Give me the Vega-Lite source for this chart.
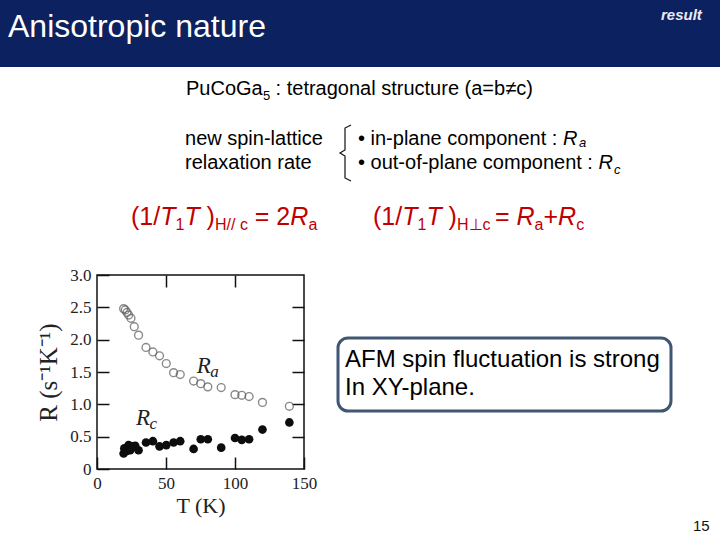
{
  "$schema": "https://vega.github.io/schema/vega-lite/v6.json",
  "width": 207,
  "height": 194,
  "autosize": {"type": "none"},
  "padding": {"left": 97, "top": 275, "right": 416, "bottom": 71},
  "background": "white",
  "config": {
    "view": {"stroke": "#111", "strokeWidth": 1.5},
    "axis": {
      "domain": false,
      "grid": false,
      "tickSize": -12,
      "tickColor": "#111",
      "tickWidth": 1.5,
      "labelFont": "Liberation Serif",
      "labelFontSize": 17,
      "labelColor": "#222",
      "labelPadding": 18,
      "labelFlush": false,
      "labelOverlap": false,
      "titleFont": "Liberation Serif",
      "titleFontSize": 22,
      "titleFontWeight": "normal",
      "titleColor": "#222"
    }
  },
  "datasets": {
    "relaxation": [
      {"T": 19.3, "R": 2.48, "component": "Ra"},
      {"T": 20.5, "R": 2.46, "component": "Ra"},
      {"T": 21.7, "R": 2.42, "component": "Ra"},
      {"T": 22.9, "R": 2.38, "component": "Ra"},
      {"T": 24.6, "R": 2.33, "component": "Ra"},
      {"T": 27.0, "R": 2.20, "component": "Ra"},
      {"T": 30.1, "R": 2.07, "component": "Ra"},
      {"T": 35.5, "R": 1.88, "component": "Ra"},
      {"T": 40.5, "R": 1.81, "component": "Ra"},
      {"T": 45.3, "R": 1.75, "component": "Ra"},
      {"T": 50.2, "R": 1.63, "component": "Ra"},
      {"T": 55.5, "R": 1.49, "component": "Ra"},
      {"T": 60.3, "R": 1.46, "component": "Ra"},
      {"T": 70.0, "R": 1.36, "component": "Ra"},
      {"T": 75.2, "R": 1.32, "component": "Ra"},
      {"T": 80.3, "R": 1.27, "component": "Ra"},
      {"T": 90.0, "R": 1.26, "component": "Ra"},
      {"T": 100.0, "R": 1.15, "component": "Ra"},
      {"T": 104.9, "R": 1.14, "component": "Ra"},
      {"T": 110.2, "R": 1.12, "component": "Ra"},
      {"T": 119.9, "R": 1.03, "component": "Ra"},
      {"T": 139.4, "R": 0.97, "component": "Ra"},
      {"T": 19.3, "R": 0.24, "component": "Rc"},
      {"T": 19.8, "R": 0.32, "component": "Rc"},
      {"T": 21.7, "R": 0.28, "component": "Rc"},
      {"T": 22.9, "R": 0.37, "component": "Rc"},
      {"T": 24.1, "R": 0.29, "component": "Rc"},
      {"T": 25.8, "R": 0.35, "component": "Rc"},
      {"T": 27.7, "R": 0.36, "component": "Rc"},
      {"T": 30.1, "R": 0.29, "component": "Rc"},
      {"T": 35.5, "R": 0.41, "component": "Rc"},
      {"T": 40.5, "R": 0.43, "component": "Rc"},
      {"T": 45.3, "R": 0.35, "component": "Rc"},
      {"T": 50.2, "R": 0.37, "component": "Rc"},
      {"T": 55.5, "R": 0.41, "component": "Rc"},
      {"T": 60.3, "R": 0.43, "component": "Rc"},
      {"T": 70.0, "R": 0.31, "component": "Rc"},
      {"T": 75.2, "R": 0.46, "component": "Rc"},
      {"T": 80.3, "R": 0.46, "component": "Rc"},
      {"T": 90.0, "R": 0.33, "component": "Rc"},
      {"T": 100.0, "R": 0.48, "component": "Rc"},
      {"T": 104.9, "R": 0.45, "component": "Rc"},
      {"T": 110.2, "R": 0.46, "component": "Rc"},
      {"T": 119.9, "R": 0.61, "component": "Rc"},
      {"T": 139.4, "R": 0.72, "component": "Rc"}
    ],
    "panels": [
      {"panel": "header", "T": -70.29, "T2": 451.45, "R": 7.2526, "R2": 6.2165},
      {"panel": "box", "T": 174.64, "T2": 415.94, "R": 2.0258, "R2": 0.8969}
    ],
    "bracket": [
      {"i": 1, "T": 184.06, "R": 5.3196},
      {"i": 2, "T": 179.71, "R": 5.2732},
      {"i": 3, "T": 179.71, "R": 4.9330},
      {"i": 4, "T": 176.09, "R": 4.8866},
      {"i": 5, "T": 179.71, "R": 4.8402},
      {"i": 6, "T": 179.71, "R": 4.5000},
      {"i": 7, "T": 184.06, "R": 4.4536}
    ],
    "notes": [
      {"text": "Anisotropic nature", "T": -64.49, "R": 6.6804, "role": "title"},
      {"text": "result", "T": 408.70, "R": 6.9433, "role": "tag"},
      {"text": "PuCoGa", "T": 64.49, "R": 5.7835, "role": "body"},
      {"text": "5", "T": 120.29, "R": 5.7062, "role": "sub"},
      {"text": ": tetragonal structure (a=b≠c)", "T": 129.42, "R": 5.7835, "role": "body"},
      {"text": "new spin-lattice", "T": 63.77, "R": 5.0103, "role": "body"},
      {"text": "relaxation rate", "T": 63.77, "R": 4.6392, "role": "body"},
      {"text": "• in-plane component :", "T": 189.13, "R": 5.0103, "role": "body"},
      {"text": "R", "T": 337.68, "R": 5.0103, "role": "body_italic"},
      {"text": "a", "T": 349.28, "R": 4.9717, "role": "sub_italic"},
      {"text": "• out-of-plane component :", "T": 189.13, "R": 4.6392, "role": "body"},
      {"text": "R", "T": 363.41, "R": 4.6392, "role": "body_italic"},
      {"text": "c", "T": 374.64, "R": 4.5619, "role": "sub_italic"},
      {"text": "(1/", "T": 24.64, "R": 3.7732, "role": "formula"},
      {"text": "T", "T": 45.80, "R": 3.7732, "role": "formula_italic"},
      {"text": "1", "T": 56.88, "R": 3.6959, "role": "formula_sub"},
      {"text": "T", "T": 63.33, "R": 3.7732, "role": "formula_italic"},
      {"text": ")", "T": 79.42, "R": 3.7732, "role": "formula"},
      {"text": "H// c", "T": 85.51, "R": 3.6959, "role": "formula_sub"},
      {"text": "= 2", "T": 114.35, "R": 3.7732, "role": "formula"},
      {"text": "R", "T": 140.07, "R": 3.7732, "role": "formula_italic"},
      {"text": "a", "T": 153.19, "R": 3.6959, "role": "formula_sub"},
      {"text": "(1/", "T": 200.00, "R": 3.7732, "role": "formula"},
      {"text": "T", "T": 221.16, "R": 3.7732, "role": "formula_italic"},
      {"text": "1", "T": 232.25, "R": 3.6959, "role": "formula_sub"},
      {"text": "T", "T": 238.70, "R": 3.7732, "role": "formula_italic"},
      {"text": ")", "T": 254.78, "R": 3.7732, "role": "formula"},
      {"text": "H⊥c", "T": 260.87, "R": 3.6959, "role": "formula_sub"},
      {"text": "=", "T": 288.33, "R": 3.7732, "role": "formula"},
      {"text": "R", "T": 303.99, "R": 3.7732, "role": "formula_italic"},
      {"text": "a", "T": 317.10, "R": 3.6959, "role": "formula_sub"},
      {"text": "+", "T": 323.55, "R": 3.7732, "role": "formula"},
      {"text": "R", "T": 334.13, "R": 3.7732, "role": "formula_italic"},
      {"text": "c", "T": 347.25, "R": 3.6959, "role": "formula_sub"},
      {"text": "AFM spin fluctuation is strong", "T": 179.71, "R": 1.5773, "role": "box"},
      {"text": "In XY-plane.", "T": 179.71, "R": 1.1443, "role": "box"},
      {"text": "15", "T": 431.88, "R": -0.9588, "role": "page"},
      {"text": "R", "T": 72.2, "R": 1.48, "role": "plot"},
      {"text": "a", "T": 82.0, "R": 1.42, "role": "plot_sub"},
      {"text": "R", "T": 28.3, "R": 0.68, "role": "plot"},
      {"text": "c", "T": 38.0, "R": 0.62, "role": "plot_sub"}
    ]
  },
  "layer": [
    {
      "data": {"name": "panels"},
      "transform": [{"filter": "datum.panel == 'header'"}],
      "mark": {"type": "rect", "color": "#0c2160"},
      "encoding": {
        "x": {"field": "T", "type": "quantitative", "axis": null},
        "x2": {"field": "T2"},
        "y": {"field": "R", "type": "quantitative", "axis": null},
        "y2": {"field": "R2"}
      }
    },
    {
      "data": {"name": "panels"},
      "transform": [{"filter": "datum.panel == 'box'"}],
      "mark": {"type": "rect", "fill": "white", "stroke": "#3f5675", "strokeWidth": 3, "cornerRadius": 10},
      "encoding": {
        "x": {"field": "T", "type": "quantitative", "axis": null},
        "x2": {"field": "T2"},
        "y": {"field": "R", "type": "quantitative", "axis": null},
        "y2": {"field": "R2"}
      }
    },
    {
      "data": {"name": "relaxation"},
      "transform": [{"filter": "datum.component == 'Ra'"}],
      "mark": {"type": "point", "shape": "circle", "filled": false, "size": 62, "stroke": "#5a5a5a", "strokeWidth": 1.4},
      "encoding": {
        "x": {
          "field": "T", "type": "quantitative",
          "scale": {"domain": [0, 150], "nice": false, "zero": false},
          "axis": {"orient": "bottom", "values": [0, 50, 100, 150], "format": "d", "title": "T (K)", "titlePadding": 4}
        },
        "y": {
          "field": "R", "type": "quantitative",
          "scale": {"domain": [0, 3], "nice": false},
          "axis": {
            "orient": "left", "values": [0, 0.5, 1, 1.5, 2, 2.5, 3],
            "labelExpr": "datum.value == 0 ? '0' : format(datum.value, '.1f')",
            "title": "R (s⁻¹K⁻¹)", "titleFontSize": 25, "titlePadding": 8
          }
        }
      }
    },
    {
      "data": {"name": "relaxation"},
      "transform": [{"filter": "datum.component == 'Rc'"}],
      "mark": {"type": "point", "shape": "circle", "filled": true, "size": 75, "color": "#0d0d0d", "opacity": 1},
      "encoding": {
        "x": {"field": "T", "type": "quantitative", "axis": {"orient": "top", "values": [50, 100], "labels": false, "title": null}},
        "y": {"field": "R", "type": "quantitative", "axis": {"orient": "right", "values": [0.5, 1, 1.5, 2, 2.5], "labels": false, "title": null}}
      }
    },
    {
      "data": {"name": "bracket"},
      "mark": {"type": "line", "color": "#111", "strokeWidth": 1.2},
      "encoding": {
        "x": {"field": "T", "type": "quantitative", "axis": null},
        "y": {"field": "R", "type": "quantitative", "axis": null},
        "order": {"field": "i"}
      }
    },
    {
      "data": {"name": "notes"},
      "transform": [{"filter": "datum.role == 'title'"}],
      "mark": {"type": "text", "align": "left", "baseline": "alphabetic", "font": "Liberation Sans", "fontSize": 32, "color": "white"},
      "encoding": {
        "x": {"field": "T", "type": "quantitative", "axis": null},
        "y": {"field": "R", "type": "quantitative", "axis": null},
        "text": {"field": "text"}
      }
    },
    {
      "data": {"name": "notes"},
      "transform": [{"filter": "datum.role == 'tag'"}],
      "mark": {"type": "text", "align": "left", "baseline": "alphabetic", "font": "Liberation Sans", "fontSize": 15, "fontWeight": "bold", "fontStyle": "italic", "color": "#e8ecf5"},
      "encoding": {
        "x": {"field": "T", "type": "quantitative", "axis": null},
        "y": {"field": "R", "type": "quantitative", "axis": null},
        "text": {"field": "text"}
      }
    },
    {
      "data": {"name": "notes"},
      "transform": [{"filter": "datum.role == 'body'"}],
      "mark": {"type": "text", "align": "left", "baseline": "alphabetic", "font": "Liberation Sans", "fontSize": 20, "color": "#000"},
      "encoding": {
        "x": {"field": "T", "type": "quantitative", "axis": null},
        "y": {"field": "R", "type": "quantitative", "axis": null},
        "text": {"field": "text"}
      }
    },
    {
      "data": {"name": "notes"},
      "transform": [{"filter": "datum.role == 'body_italic'"}],
      "mark": {"type": "text", "align": "left", "baseline": "alphabetic", "font": "Liberation Sans", "fontSize": 20, "fontStyle": "italic", "color": "#000"},
      "encoding": {
        "x": {"field": "T", "type": "quantitative", "axis": null},
        "y": {"field": "R", "type": "quantitative", "axis": null},
        "text": {"field": "text"}
      }
    },
    {
      "data": {"name": "notes"},
      "transform": [{"filter": "datum.role == 'sub'"}],
      "mark": {"type": "text", "align": "left", "baseline": "alphabetic", "font": "Liberation Sans", "fontSize": 13, "color": "#000"},
      "encoding": {
        "x": {"field": "T", "type": "quantitative", "axis": null},
        "y": {"field": "R", "type": "quantitative", "axis": null},
        "text": {"field": "text"}
      }
    },
    {
      "data": {"name": "notes"},
      "transform": [{"filter": "datum.role == 'sub_italic'"}],
      "mark": {"type": "text", "align": "left", "baseline": "alphabetic", "font": "Liberation Sans", "fontSize": 13, "fontStyle": "italic", "color": "#000"},
      "encoding": {
        "x": {"field": "T", "type": "quantitative", "axis": null},
        "y": {"field": "R", "type": "quantitative", "axis": null},
        "text": {"field": "text"}
      }
    },
    {
      "data": {"name": "notes"},
      "transform": [{"filter": "datum.role == 'formula'"}],
      "mark": {"type": "text", "align": "left", "baseline": "alphabetic", "font": "Liberation Sans", "fontSize": 25, "color": "#c00000"},
      "encoding": {
        "x": {"field": "T", "type": "quantitative", "axis": null},
        "y": {"field": "R", "type": "quantitative", "axis": null},
        "text": {"field": "text"}
      }
    },
    {
      "data": {"name": "notes"},
      "transform": [{"filter": "datum.role == 'formula_italic'"}],
      "mark": {"type": "text", "align": "left", "baseline": "alphabetic", "font": "Liberation Sans", "fontSize": 25, "fontStyle": "italic", "color": "#c00000"},
      "encoding": {
        "x": {"field": "T", "type": "quantitative", "axis": null},
        "y": {"field": "R", "type": "quantitative", "axis": null},
        "text": {"field": "text"}
      }
    },
    {
      "data": {"name": "notes"},
      "transform": [{"filter": "datum.role == 'formula_sub'"}],
      "mark": {"type": "text", "align": "left", "baseline": "alphabetic", "font": "Liberation Sans", "fontSize": 16, "color": "#c00000"},
      "encoding": {
        "x": {"field": "T", "type": "quantitative", "axis": null},
        "y": {"field": "R", "type": "quantitative", "axis": null},
        "text": {"field": "text"}
      }
    },
    {
      "data": {"name": "notes"},
      "transform": [{"filter": "datum.role == 'box'"}],
      "mark": {"type": "text", "align": "left", "baseline": "alphabetic", "font": "Liberation Sans", "fontSize": 24, "color": "#000"},
      "encoding": {
        "x": {"field": "T", "type": "quantitative", "axis": null},
        "y": {"field": "R", "type": "quantitative", "axis": null},
        "text": {"field": "text"}
      }
    },
    {
      "data": {"name": "notes"},
      "transform": [{"filter": "datum.role == 'page'"}],
      "mark": {"type": "text", "align": "left", "baseline": "alphabetic", "font": "Liberation Sans", "fontSize": 15, "color": "#111"},
      "encoding": {
        "x": {"field": "T", "type": "quantitative", "axis": null},
        "y": {"field": "R", "type": "quantitative", "axis": null},
        "text": {"field": "text"}
      }
    },
    {
      "data": {"name": "notes"},
      "transform": [{"filter": "datum.role == 'plot'"}],
      "mark": {"type": "text", "align": "left", "baseline": "alphabetic", "font": "Liberation Serif", "fontSize": 23, "fontStyle": "italic", "color": "#222"},
      "encoding": {
        "x": {"field": "T", "type": "quantitative", "axis": null},
        "y": {"field": "R", "type": "quantitative", "axis": null},
        "text": {"field": "text"}
      }
    },
    {
      "data": {"name": "notes"},
      "transform": [{"filter": "datum.role == 'plot_sub'"}],
      "mark": {"type": "text", "align": "left", "baseline": "alphabetic", "font": "Liberation Serif", "fontSize": 17, "fontStyle": "italic", "color": "#222"},
      "encoding": {
        "x": {"field": "T", "type": "quantitative", "axis": null},
        "y": {"field": "R", "type": "quantitative", "axis": null},
        "text": {"field": "text"}
      }
    }
  ],
  "resolve": {"axis": {"x": "independent", "y": "independent"}}
}
